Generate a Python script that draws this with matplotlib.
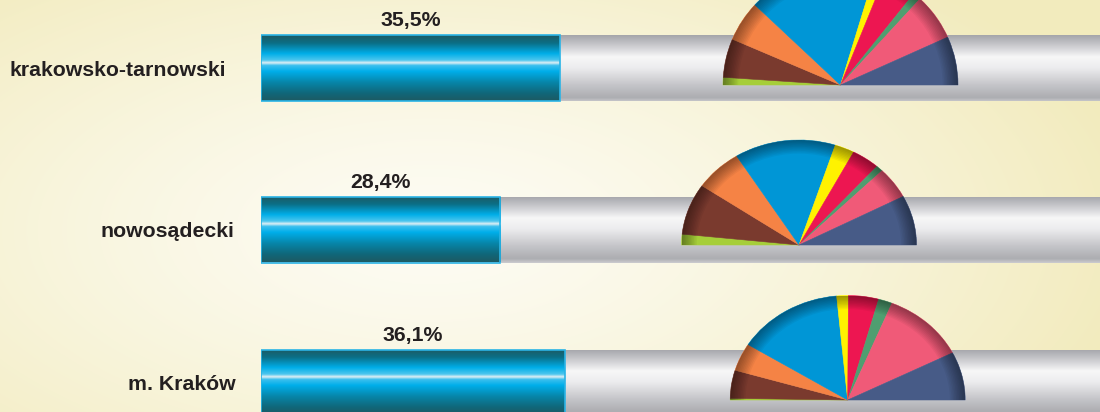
import numpy as np
import matplotlib
matplotlib.use("Agg")
import matplotlib.pyplot as plt
from matplotlib.colors import LinearSegmentedColormap, to_rgb
from matplotlib.patches import Wedge

W, H = 1100, 412

REGIONS = ["krakowsko-tarnowski", "nowosądecki", "m. Kraków"]
TURNOUT = [35.5, 28.4, 36.1]

# slice shares, read clockwise from the left end of each half-pie
PARTY_COLORS = ["#a6ce39", "#7a3a2e", "#f58345", "#0096d6", "#fff200",
                "#ed1651", "#4f9e70", "#f05a78", "#475b87"]
SHARES_KT = [2.1, 10.7, 11.2, 35.4, 2.8, 9.2, 2.2, 12.9, 13.4]
SHARES_NS = [3.3, 15.8, 13.1, 27.8, 5.4, 7.7, 1.9, 9.7, 15.3]
SHARES_KR = [0.5, 8.7, 8.6, 29.2, 3.2, 8.3, 3.8, 22.8, 14.9]
SHARES = [SHARES_KT, SHARES_NS, SHARES_KR]

# layout in pixels
ROW_TOP = [35, 196.5, 349.5]
BAR_H = 66
LABEL_RIGHT = [226, 234, 236]
PIE_CENTERS = [(840.5, 85), (799, 245), (847.7, 400)]
PIE_RX = [117.5, 117.5, 117.5]
PIE_RY = [117, 105, 104.5]

TEXT_COLOR = "#231f20"
plt.rcParams["font.family"] = ["Liberation Sans", "DejaVu Sans"]
plt.rcParams["font.weight"] = "bold"

bar_cmap = LinearSegmentedColormap.from_list("bar", [
    (0.00, "#1d5a63"), (0.12, "#0b6f86"), (0.28, "#00aee8"),
    (0.38, "#4cc6ee"), (0.42, "#dfeff4"), (0.46, "#3cc0ee"),
    (0.55, "#00aeea"), (0.72, "#0785a8"), (0.88, "#10677a"), (1.00, "#1d5a63")])
track_cmap = LinearSegmentedColormap.from_list("track", [
    (0.00, "#a4a5aa"), (0.15, "#c8c8cc"), (0.33, "#f7f7f7"),
    (0.50, "#ececee"), (0.75, "#c6c6ca"), (0.95, "#acadb1"), (1.00, "#c4c4c8")])
grad = np.linspace(0, 1, 256).reshape(-1, 1)

fig = plt.figure(figsize=(W / 100, H / 100), dpi=100)

# background wash
bg = fig.add_axes([0, 0, 1, 1])
yy, xx = np.mgrid[0:H, 0:W]
d = np.clip(np.sqrt(((xx - 430) / 720) ** 2 + ((yy - 230) / 340) ** 2), 0, 1)[..., None]
c0, c1 = np.array(to_rgb("#fdfcf4")), np.array(to_rgb("#f2ebbd"))
bg.imshow(c0 + (c1 - c0) * d ** 1.3, extent=(0, W, H, 0), aspect="auto")
bg.axis("off")

# bars, scaled 0-100 %
ax = fig.add_axes([261 / W, 0, 842 / W, 1])
ax.patch.set_visible(False)
for i, (name, val) in enumerate(zip(REGIONS, TURNOUT)):
    y = ROW_TOP[i] + BAR_H / 2
    track = ax.barh(y, 100, height=BAR_H, color="#c8c8cc", lw=0, zorder=1)[0]
    im = ax.imshow(grad, cmap=track_cmap, extent=(0, 100, y + BAR_H / 2, y - BAR_H / 2),
                   aspect="auto", zorder=1.5)
    im.set_clip_path(track)
    bar = ax.barh(y, val, height=BAR_H, facecolor="none", edgecolor="#2ab4e6", lw=1.2, zorder=3)[0]
    im = ax.imshow(grad, cmap=bar_cmap, extent=(0, val, y + BAR_H / 2, y - BAR_H / 2),
                   aspect="auto", zorder=2)
    im.set_clip_path(bar)
    ax.text(val / 2, y - BAR_H / 2 - 9, f"{val:.1f}%".replace(".", ","),
            ha="center", va="baseline", fontsize=15.3, color=TEXT_COLOR)
    fig.text(LABEL_RIGHT[i] / W, 1 - (y + 2) / H, name, ha="right", va="center",
             fontsize=15.3, color=TEXT_COLOR)
ax.set_xlim(0, 100)
ax.set_ylim(H, 0)
ax.axis("off")

# half-pies on top of the tracks
for (cx, cy), rx, ry, shares in zip(PIE_CENTERS, PIE_RX, PIE_RY, SHARES):
    pax = fig.add_axes([(cx - rx) / W, 1 - (cy + ry) / H, 2 * rx / W, 2 * ry / H])
    wedges, _ = pax.pie(shares + [sum(shares)], colors=PARTY_COLORS + ["white"],
                        startangle=180, counterclock=False,
                        wedgeprops=dict(linewidth=0.4))
    for w in wedges:
        w.set_edgecolor(w.get_facecolor())
    wedges[-1].set_visible(False)
    for k in range(10):
        pax.add_patch(Wedge((0, 0), 1, 0, 180, width=0.013 * (k + 1),
                            facecolor="black", alpha=0.045, lw=0))
    pax.set_xlim(-1, 1)
    pax.set_ylim(-1, 1)
    pax.set_aspect("auto")
    pax.axis("off")

fig.savefig("out.png", dpi=100)
